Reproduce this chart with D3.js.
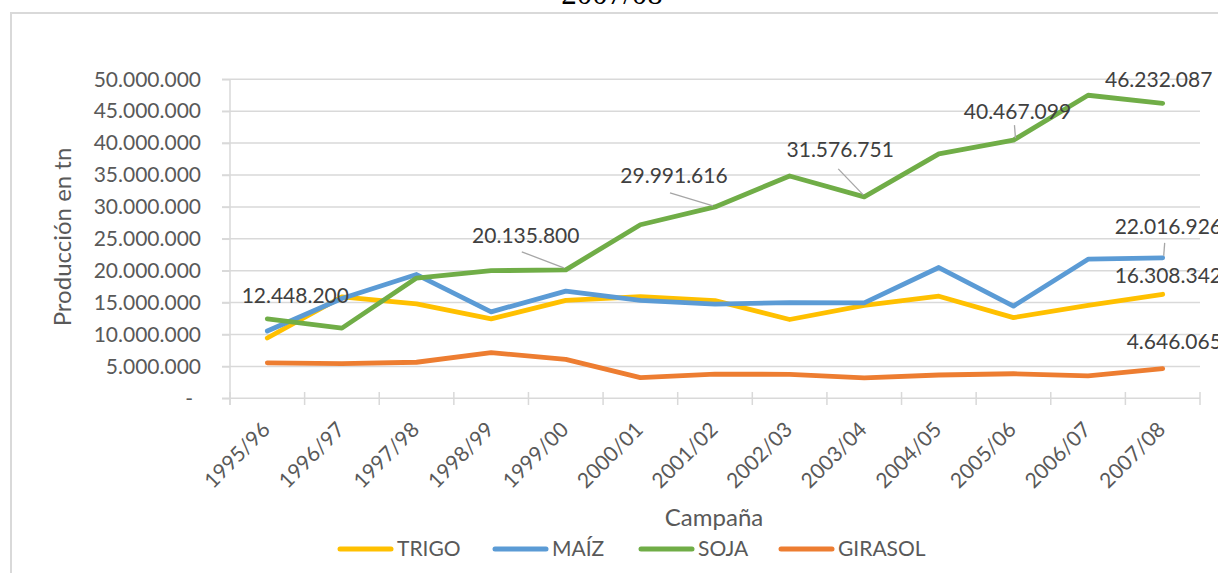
<!DOCTYPE html>
<html><head><meta charset="utf-8">
<script src="https://cdn.jsdelivr.net/npm/d3@7"></script>
<style>body{margin:0;background:#fff}svg{display:block}</style>
</head><body>
<svg id="c" width="1218" height="573"></svg>
<script>
const categories = ["1995/96","1996/97","1997/98","1998/99","1999/00","2000/01","2001/02","2002/03","2003/04","2004/05","2005/06","2006/07","2007/08"];
const trigo   = [9450000,15900000,14800000,12450000,15350000,15950000,15300000,12350000,14550000,16000000,12650000,14550000,16308342];
const maiz    = [10550000,15650000,19400000,13550000,16800000,15350000,14750000,15000000,14950000,20500000,14450000,21800000,22016926];
const soja    = [12448200,11000000,18850000,20000000,20135800,27200000,29991616,34850000,31576751,38300000,40467099,47500000,46232087];
const girasol = [5560000,5450000,5650000,7150000,6100000,3250000,3800000,3750000,3200000,3650000,3850000,3500000,4646065];
const seriesNames = ["TRIGO","MAÍZ","SOJA","GIRASOL"];
const yTicks = [0,5000000,10000000,15000000,20000000,25000000,30000000,35000000,40000000,45000000,50000000];
const titleText = "2007/08";
const yTitle = "Producción en tn";
const xTitle = "Campaña";

const colors = ["#FFC000","#5B9BD5","#70AD47","#ED7D31"];
const seriesData = [trigo, maiz, soja, girasol];

// label placement (style only): [seriesIndex, pointIndex, anchor, dx, dy(baseline), leader]
const labelSpecs = [
  [2,0,"middle",28,-16,null],
  [2,4,"middle",-40,-27,[[-44,-18],[-2,-2]]],
  [2,6,"middle",-41,-24,[[-45,-14],[-2,-1]]],
  [2,8,"middle",-24,-40,[[-26,-28],[-1,-2]]],
  [2,10,"middle",4,-21,[[1,-15],[2,-2]]],
  [2,12,"middle",-4,-16,null],
  [1,12,"start",-48,-24,[[2,-15],[1,-2]]],
  [0,12,"start",-48,-11,null],
  [3,12,"start",-36,-20,null]
];

const svg = d3.select("#c");
const font = "Lato, 'Open Sans', sans-serif";
const grid = "#D9D9D9";

// frame
svg.append("rect").attr("x",11).attr("y",13).attr("width",1300).attr("height",700)
  .attr("fill","none").attr("stroke",grid).attr("stroke-width",2);
// title (cut off)
svg.append("text").attr("x",612).attr("y",3.5).attr("text-anchor","middle")
  .attr("font-family","'Liberation Serif', serif").attr("font-size",31).attr("fill","#000").text(titleText);

const x = d3.scaleBand().domain(categories).range([230,1200]);
const y = d3.scaleLinear().domain([0,50000000]).range([398.3,79.3]);

const loc = d3.formatLocale({decimal:",",thousands:".",grouping:[3],currency:["$",""]});
const fmt = loc.format(",d");

// gridlines
svg.append("g").selectAll("line").data(yTicks.filter(d=>d>0)).join("line")
  .attr("x1",222).attr("x2",1200).attr("y1",d=>y(d)).attr("y2",d=>y(d))
  .attr("stroke",grid).attr("stroke-width",1.5);

// y axis
const yAxis = d3.axisLeft(y).tickValues(yTicks).tickSize(8).tickPadding(21)
  .tickFormat(d=> d===0 ? "-" : fmt(d));
const gy = svg.append("g").attr("transform","translate(230,0)").call(yAxis);
gy.select(".domain").attr("stroke",grid).attr("stroke-width",1.5).attr("d","M0,79.3V405");
gy.selectAll(".tick line").attr("stroke",grid).attr("stroke-width",1.5);
gy.selectAll(".tick text").attr("font-family",font).attr("font-size",21).attr("fill","#595959")
  .attr("dx",d=>d===0? -8 : 0);

// x axis
const xAxis = d3.axisBottom(x).tickSize(0).tickFormat("");
const gx = svg.append("g").attr("transform","translate(0,398.3)").call(xAxis);
gx.select(".domain").attr("stroke",grid).attr("stroke-width",1.5).attr("d","M222,0H1200");
gx.selectAll(".tick").remove();
svg.append("g").selectAll("line").data(categories.concat(["__end"])).join("line")
  .attr("x1",(d,i)=>230+i*x.step()).attr("x2",(d,i)=>230+i*x.step())
  .attr("y1",392).attr("y2",405).attr("stroke",grid).attr("stroke-width",1.5);
svg.append("g").selectAll("text").data(categories).join("text")
  .attr("transform",d=>`translate(${x(d)+x.bandwidth()/2+4},431) rotate(-45)`)
  .attr("text-anchor","end").attr("font-family",font).attr("font-size",21).attr("fill","#595959").text(d=>d);

// axis titles
svg.append("text").attr("transform","translate(71,237) rotate(-90)").attr("text-anchor","middle")
  .attr("font-family",font).attr("font-size",24).attr("fill","#595959").text(yTitle);
svg.append("text").attr("x",714).attr("y",526).attr("text-anchor","middle")
  .attr("font-family",font).attr("font-size",24).attr("fill","#595959").text(xTitle);

// lines
const cx = d => x(d)+x.bandwidth()/2;
const line = d3.line().x((v,i)=>cx(categories[i])).y(v=>y(v));
svg.append("g").selectAll("path").data(seriesData).join("path")
  .attr("d",d=>line(d)).attr("fill","none").attr("stroke",(d,i)=>colors[i])
  .attr("stroke-width",4.8).attr("stroke-linejoin","round").attr("stroke-linecap","round");

// data labels
const lg = svg.append("g");
labelSpecs.forEach(([s,i,anchor,dx,dy,leader])=>{
  const px = cx(categories[i]), py = y(seriesData[s][i]);
  if(leader){
    lg.append("line").attr("x1",px+leader[0][0]).attr("y1",py+leader[0][1])
      .attr("x2",px+leader[1][0]).attr("y2",py+leader[1][1]).attr("stroke","#A6A6A6").attr("stroke-width",1.3);
  }
  lg.append("text").attr("x",px+dx).attr("y",py+dy).attr("text-anchor",anchor)
    .attr("font-family",font).attr("font-size",21).attr("fill","#404040").text(fmt(seriesData[s][i]));
});

// legend
const legendX = [338,493,639,779];
const lgd = svg.append("g");
seriesNames.forEach((n,i)=>{
  lgd.append("line").attr("x1",legendX[i]+2).attr("x2",legendX[i]+53).attr("y1",549).attr("y2",549)
    .attr("stroke",colors[i]).attr("stroke-width",5).attr("stroke-linecap","round");
  lgd.append("text").attr("x",legendX[i]+59).attr("y",549).attr("dy","0.35em")
    .attr("font-family",font).attr("font-size",21).attr("fill","#595959").text(n);
});
</script>
</body></html>
